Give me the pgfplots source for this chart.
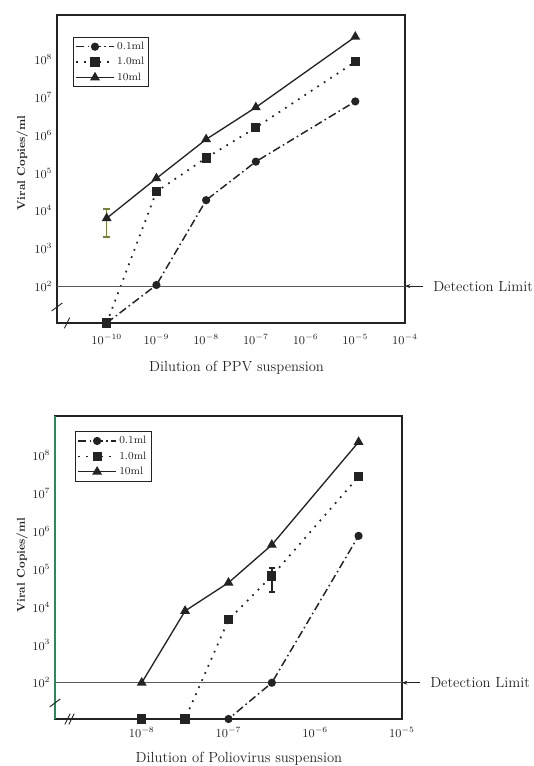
\documentclass[border=0pt]{standalone}
\usepackage{pgfplots}
\pgfplotsset{compat=1.18}
\usetikzlibrary{arrows.meta}
\definecolor{ink}{RGB}{35,35,35}
\definecolor{errgreen}{RGB}{120,130,50}
\definecolor{spinegreen}{RGB}{40,140,90}
\definecolor{limgray}{RGB}{90,90,90}

\pgfplotsset{
  myaxis/.style={
    scale only axis, clip=false,
    axis line style={ink, line width=0.9pt},
    major tick length=0pt, minor tick length=0pt,
    ytick={1e2,1e3,1e4,1e5,1e6,1e7,1e8},
    tick label style={font=\small, text=ink},
    legend cell align=left,
    legend style={font=\footnotesize, draw=ink, line width=0.7pt, anchor=north west,
      inner sep=1.5pt, row sep=0.5pt, fill=white, text=ink},
    legend image code/.code={\draw[mark repeat=2,mark phase=2,##1] plot coordinates {(0pt,0pt)(14pt,0pt)(28pt,0pt)};},
    ylabel={Viral Copies/ml},
    ylabel style={font=\fontsize{8.5}{10}\selectfont\bfseries, text=ink, anchor=center, rotate=0},
    xlabel style={font=\fontsize{11}{13}\selectfont, text=ink, anchor=center},
  },
  s01/.style={ink, line width=1.1pt, dash pattern=on 6pt off 2.5pt on 1.2pt off 2.5pt,
    mark=*, mark size=2.5pt, mark options={solid, fill=ink}},
  s10/.style={ink, line width=1.3pt, dash pattern=on 1.3pt off 4.5pt,
    mark=square*, mark size=2.8pt, mark options={solid, fill=ink}},
  s100/.style={ink, line width=1.0pt, solid,
    mark=triangle*, mark size=3.3pt, mark options={solid, fill=ink}},
}

\begin{document}
\begin{tikzpicture}
\useasboundingbox (0,0) rectangle (400.5pt,574.5pt);

% ---------------- Top panel: PPV ----------------
\begin{loglogaxis}[myaxis,
  at={(42.75pt,332.25pt)}, anchor=south west,
  width=261pt, height=231pt,
  xmin=1e-11, xmax=1e-4, ymin=10.5, ymax=1.55e9,
  xtick={1e-10,1e-9,1e-8,1e-7,1e-6,1e-5,1e-4},
  xticklabel style={yshift=-5pt},
  xlabel={Dilution of PPV suspension},
  xlabel style={at={(axis description cs:0.516,-0.146)}},
  ylabel style={at={(axis description cs:-0.10,0.52)}},
  legend style={at={(axis description cs:0.046,0.929)}},
]
\addplot[s01] coordinates {(1e-10,10.5) (1e-9,107) (1e-8,1.9e4) (1e-7,2e5) (1e-5,7.9e6)};
\addlegendentry{0.1ml}
\addplot[s10] coordinates {(1e-10,10.5) (1e-9,3.2e4) (1e-8,2.5e5) (1e-7,1.6e6) (1e-5,8.9e7)};
\addlegendentry{1.0ml}
\addplot[s100] coordinates {(1e-10,6.3e3) (1e-9,7.2e4) (1e-8,7.8e5) (1e-7,5.5e6) (1e-5,4.1e8)};
\addlegendentry{10ml}
\addplot[errgreen, line width=1pt, mark=-, mark size=2.5pt, forget plot] coordinates {(1e-10,2e3) (1e-10,1.1e4)};
% detection limit
\draw[limgray, line width=0.6pt] (axis cs:1e-11,100) -- (axis cs:1e-4,100);
\draw[ink, line width=0.6pt, -{Stealth[length=4pt,width=3pt]}] ([xshift=13.5pt]axis cs:1e-4,100) -- (axis cs:1e-4,100);
\node[anchor=west, font=\fontsize{11}{13}\selectfont, text=ink, inner sep=0pt] at ([xshift=21pt]axis cs:1e-4,100) {Detection Limit};
% axis breaks
\draw[ink, line width=0.7pt] ([xshift=-4pt,yshift=-3pt]rel axis cs:0,0.052) -- ([xshift=4pt,yshift=3pt]rel axis cs:0,0.052);
\draw[ink, line width=0.7pt] ([xshift=-2pt,yshift=-4pt]rel axis cs:0.029,0) -- ([xshift=2pt,yshift=4pt]rel axis cs:0.029,0);
\end{loglogaxis}

% ---------------- Bottom panel: Poliovirus ----------------
\begin{loglogaxis}[myaxis,
  at={(41.25pt,35.25pt)}, anchor=south west,
  width=260.25pt, height=227.25pt,
  xmin=1e-9, xmax=1e-5, ymin=11, ymax=1.12e9,
  xtick={1e-8,1e-7,1e-6,1e-5},
  xticklabel style={yshift=-3pt},
  xlabel={Dilution of Poliovirus suspension},
  xlabel style={at={(axis description cs:0.53,-0.132)}},
  ylabel style={at={(axis description cs:-0.095,0.508)}},
  legend style={at={(axis description cs:0.058,0.95)}},
]
\addplot[s01] coordinates {(1e-8,11) (3.16e-8,11) (1e-7,11) (3.16e-7,100) (3.16e-6,7.6e5)};
\addlegendentry{0.1ml}
\addplot[s10] coordinates {(1e-8,11) (3.16e-8,11) (1e-7,4.6e3) (3.16e-7,6.6e4) (3.16e-6,2.8e7)};
\addlegendentry{1.0ml}
\addplot[s100] coordinates {(1e-8,100) (3.16e-8,7.9e3) (1e-7,4.4e4) (3.16e-7,4.4e5) (3.16e-6,2.3e8)};
\addlegendentry{10ml}
\addplot[ink, line width=1pt, mark=-, mark size=2.5pt, forget plot] coordinates {(3.16e-7,2.5e4) (3.16e-7,1.07e5)};
% detection limit
\draw[limgray, line width=0.6pt] (axis cs:1e-9,100) -- (axis cs:1e-5,100);
\draw[ink, line width=0.6pt, -{Stealth[length=4pt,width=3pt]}] ([xshift=13.5pt]axis cs:1e-5,100) -- (axis cs:1e-5,100);
\node[anchor=west, font=\fontsize{11}{13}\selectfont, text=ink, inner sep=0pt] at ([xshift=21pt]axis cs:1e-5,100) {Detection Limit};
% green left spine
\draw[spinegreen, line width=1pt] (rel axis cs:0,0) -- (rel axis cs:0,1);
% axis breaks
\draw[ink, line width=0.7pt] ([xshift=-4pt,yshift=-3pt]rel axis cs:0,0.053) -- ([xshift=4pt,yshift=3pt]rel axis cs:0,0.053);
\draw[ink, line width=0.7pt] ([xshift=-3pt,yshift=-4pt]rel axis cs:0.040,0) -- ([xshift=1pt,yshift=4pt]rel axis cs:0.040,0);
\draw[ink, line width=0.7pt] ([xshift=0pt,yshift=-4pt]rel axis cs:0.040,0) -- ([xshift=4pt,yshift=4pt]rel axis cs:0.040,0);
\end{loglogaxis}
\end{tikzpicture}
\end{document}
